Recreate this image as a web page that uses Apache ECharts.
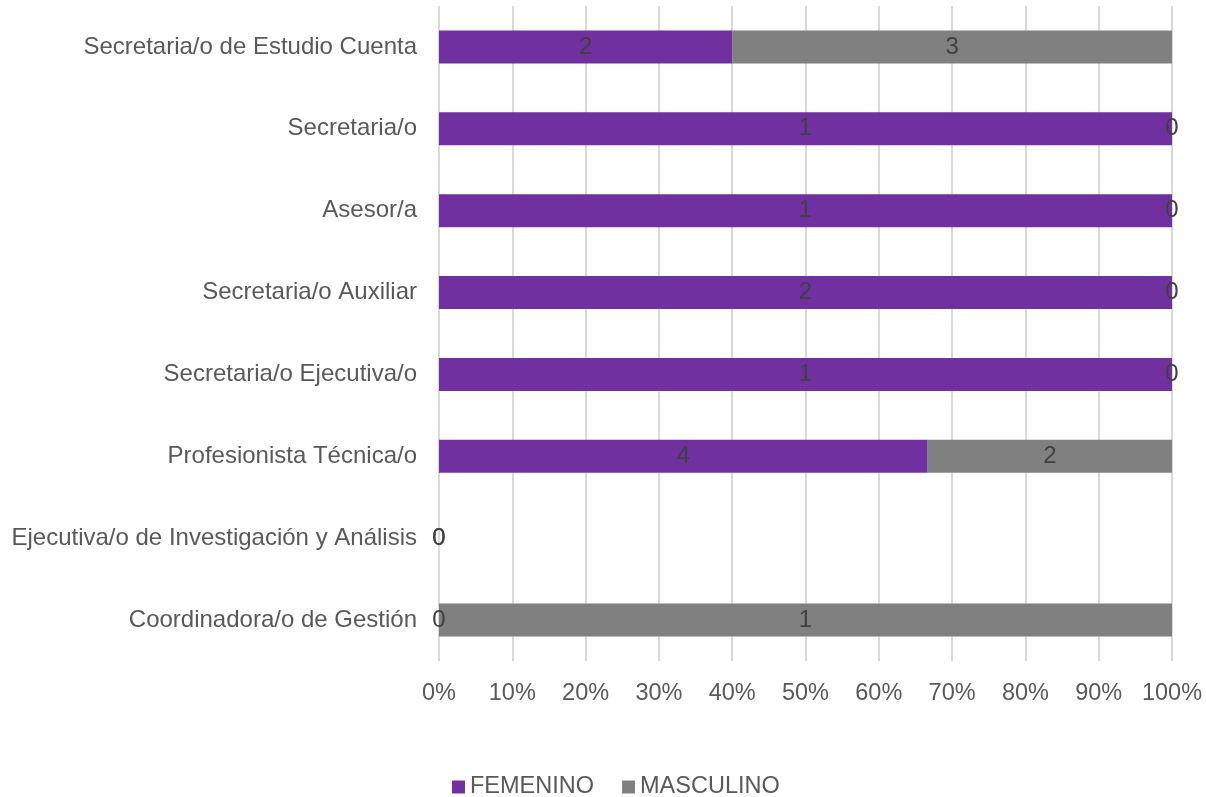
<!DOCTYPE html>
<html>
<head>
<meta charset="utf-8">
<script src="https://cdn.jsdelivr.net/npm/echarts@6/dist/echarts.min.js"></script>
<style>
  html, body { margin: 0; padding: 0; background: #fff; }
  #chart { width: 1206px; height: 797px; }
</style>
</head>
<body>
<div id="chart"></div>
<script>
// categorias de abajo hacia arriba (eje y de ECharts)
const puestos = [
  'Coordinadora/o de Gestión',
  'Ejecutiva/o de Investigación y Análisis',
  'Profesionista Técnica/o',
  'Secretaria/o Ejecutiva/o',
  'Secretaria/o Auxiliar',
  'Asesor/a',
  'Secretaria/o',
  'Secretaria/o de Estudio Cuenta'
];
const femenino = [0, 0, 4, 1, 2, 1, 1, 2];
const masculino = [1, 0, 2, 0, 0, 0, 0, 3];
const ticksX = [0, 10, 20, 30, 40, 50, 60, 70, 80, 90, 100];

const pct = (arr) => arr.map((v, i) => {
  const t = femenino[i] + masculino[i];
  return t ? v / t * 100 : 0;
});

const labelStyle = (raw) => ({
  show: true,
  position: 'inside',
  color: '#404040',
  fontSize: 24,
  fontFamily: 'Liberation Sans, Arial, sans-serif',
  formatter: (p) => String(raw[p.dataIndex])
});

const chart = echarts.init(document.getElementById('chart'));
const option = {
  animation: false,
  textStyle: { fontFamily: 'Liberation Sans, Arial, sans-serif' },
  grid: { left: 439, right: 34, top: 6, bottom: 136, containLabel: false },
  legend: {
    top: 770,
    left: 447,
    itemWidth: 13,
    itemHeight: 13,
    itemGap: 28,
    icon: 'rect',
    textStyle: { color: '#595959', fontSize: 23.5 },
    data: ['FEMENINO', 'MASCULINO']
  },
  xAxis: {
    type: 'value',
    min: 0,
    max: 100,
    interval: 10,
    axisLine: { show: false },
    axisTick: { show: false },
    splitLine: { lineStyle: { color: '#d9d9d9', width: 2 } },
    axisLabel: {
      color: '#595959',
      fontSize: 23.5,
      margin: 21,
      formatter: (v) => ticksX.includes(v) ? v + '%' : ''
    }
  },
  yAxis: {
    type: 'category',
    data: puestos,
    axisLine: { show: false },
    axisTick: { show: false },
    axisLabel: { color: '#595959', fontSize: 24, margin: 22 }
  },
  series: [
    {
      name: 'FEMENINO',
      type: 'bar',
      stack: 'total',
      barWidth: 33,
      itemStyle: { color: '#7030a0' },
      label: labelStyle(femenino),
      data: pct(femenino)
    },
    {
      name: 'MASCULINO',
      type: 'bar',
      stack: 'total',
      barWidth: 33,
      itemStyle: { color: '#808080' },
      label: labelStyle(masculino),
      data: pct(masculino)
    }
  ]
};
chart.setOption(option);
</script>
</body>
</html>
